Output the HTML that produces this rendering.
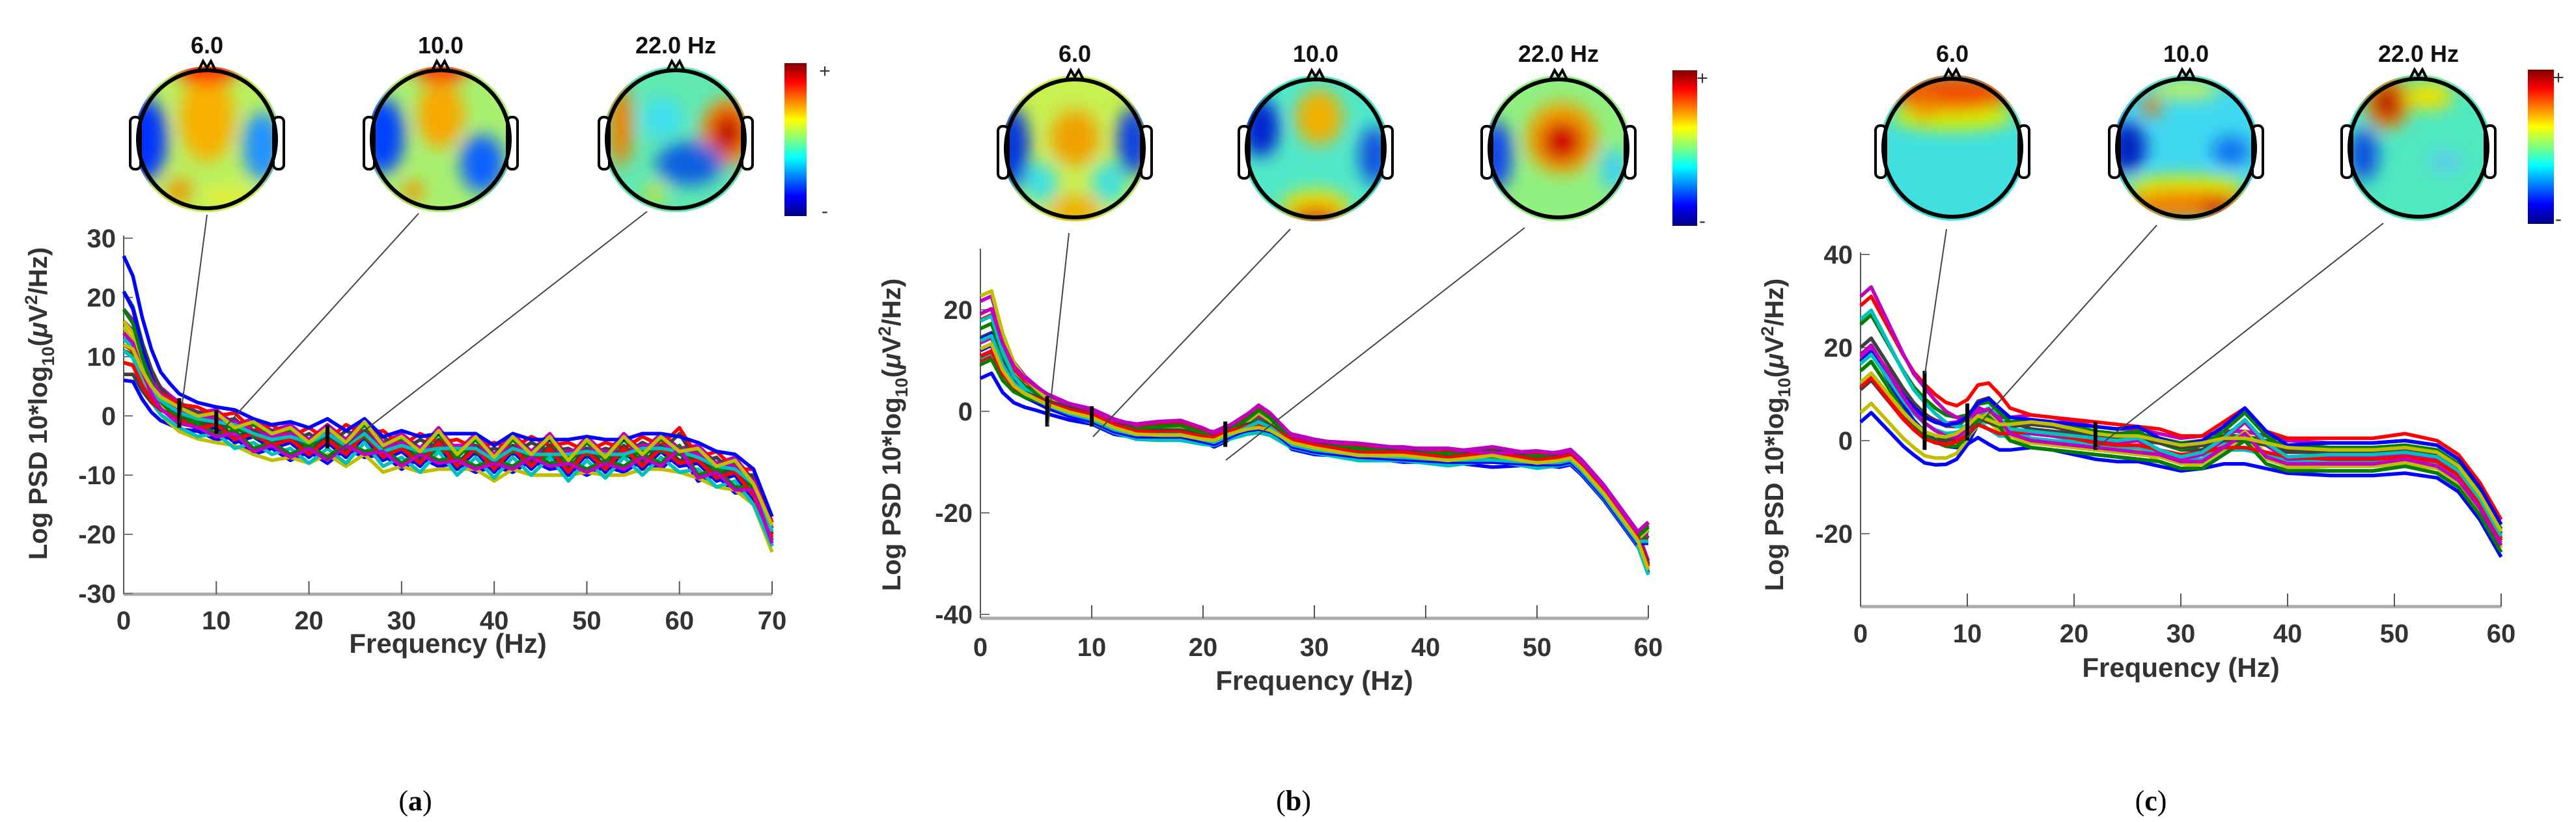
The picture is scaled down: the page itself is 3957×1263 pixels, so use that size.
<!DOCTYPE html>
<html><head><meta charset="utf-8"><style>
html,body{margin:0;padding:0;background:#fff}
svg{display:block}
text{font-family:"Liberation Sans",Arial,sans-serif}
</style></head><body>
<svg id="fig" width="3957" height="1263" viewBox="0 0 3957 1263" xmlns="http://www.w3.org/2000/svg">
<defs>
<linearGradient id="jet" x1="0" y1="0" x2="0" y2="1">
<stop offset="0" stop-color="#800000"/><stop offset="0.12" stop-color="#ff0000"/><stop offset="0.37" stop-color="#ffff00"/><stop offset="0.5" stop-color="#80ff80"/><stop offset="0.62" stop-color="#00ffff"/><stop offset="0.87" stop-color="#0000ff"/><stop offset="1" stop-color="#000080"/>
</linearGradient>
<filter id="blur" x="-50%" y="-50%" width="200%" height="200%"><feGaussianBlur stdDeviation="13"/></filter>
</defs>
<g id="heads"></g>
<g id="plots"></g>
<text x="638" y="1245" font-size="44" text-anchor="middle" style="font-family:'Liberation Serif',serif">(<tspan font-weight="bold">a</tspan>)</text>
<text x="1987" y="1245" font-size="44" text-anchor="middle" style="font-family:'Liberation Serif',serif">(<tspan font-weight="bold">b</tspan>)</text>
<text x="3304" y="1245" font-size="44" text-anchor="middle" style="font-family:'Liberation Serif',serif">(<tspan font-weight="bold">c</tspan>)</text>
</svg>
<script>
// ---------- Panel A data ----------
const freqsA=[0,1,2,3,4,5,6,8,10,12,14,16,18,20,22,24,26,28,30,32,34,36,38,40,42,44,46,48,50,52,54,56,58,60,62,64,66,68,70];
const baseA=[12,11,7,4,2,1,0,-1,-1.5,-2.5,-3.5,-4,-4.5,-5,-4.5,-5,-4,-5.5,-6,-6.5,-5.5,-7,-6,-7.5,-6.5,-7,-6,-7.5,-6.5,-7.5,-6.5,-7,-6,-6,-8,-9,-10,-12,-20];
const decayA=[1,0.8,0.55,0.35,0.2,0.12,0.06,0.02,0,0,0,0,0,0,0,0,0,0,0,0,0,0,0,0,0,0,0,0,0,0,0,0,0,0,0,0,0,0,0];
const jitA1=[0,0,0,0,0,0,0,0.5,-0.5,1,-1,0.5,-1,1,-1.5,1.5,-1,1,-1,1.5,-1,1,-1.5,1,-1,1.5,-1,1,-1.5,1,-1,1.5,-1,2,-1,1,-1,1,0];
const jitA2=[0,0,0,0,0,0,0,-0.5,0.5,-1,1,-0.5,1,-1,1,-1,1.5,-1,1,-1,1.5,-1,1,-1,1.5,-1,1,-1.5,1,-1,1.5,-1,1,-1.5,1,-1,1,-1,0];
const jitA3=[0,0,0,0,0,0,0,0,0,0.5,0,-0.5,0.5,0,1,-0.5,0.5,-1,0.5,0,-0.5,1,0,-0.5,0.5,0,-1,0.5,0,0.5,-0.5,1,0,-0.5,0.5,0,0.5,0,0];
const lowA=[-4,-2,0,2,4,6,8,10,-3,-1,1,3,5,-5,12,7,-2.5,0.5,3.5,-1.5];
const highA=[-2,1,0,-1,2,-3,1,-1,0,2,-2,1,-1,0,3,-1,-0.5,0.5,-1.5,1.5];
const yTicksA=[-30,-20,-10,0,10,20,30];
const xTicksA=[0,10,20,30,40,50,60,70];
const markA=[[6,-2,3],[10,-3,1],[22,-5.5,-1.5]];
// ---------- Panel B data ----------
const freqsB=[0,1,2,3,4,5,6,8,10,12,14,16,18,20,21,22,24,25,26,28,30,34,38,42,46,50,52,53,54,56,58,59,60];
const baseB=[12,13,8,5,3.5,2.5,1.5,0,-1,-3,-4,-4,-4,-5,-5.5,-4.5,-2.5,-1.5,-2.5,-6,-7,-8,-8.5,-9,-9,-9.5,-9.5,-9,-11,-16,-22,-25,-27];
const decayB=[1,1,0.7,0.45,0.3,0.2,0.12,0.05,0,0,0,0,0,0,0,0,0,0,0,0,0,0,0,0,0,0,0,0,0,0,0,0,0];
const jitB1=[0,0,0,0,0,0,0,0,0,0,0.3,0.8,1,0.5,0,0,0.8,1.5,1,0,0,0.5,0,0.5,-0.5,0.5,0,0,0,0,0,0,4];
const jitB2=[0,0,0,0,0,0,0,0,0,0,-0.3,-0.5,-0.5,-0.3,0,0,-0.8,-1.5,-1,0,0,-0.5,0,-0.5,0.5,-0.5,0,0,0,0,0,0,-4];
const jitB3=[0,0,0,0,0,0,0,0,0,0,0,0,0,0,0,0,0,0,0,0,0,0,0,0,0,0,0,0,0,0,0,0,2];
const lowB=[-4,-3,-2,-1,0,1,2,3,4,5,7,9,11,-2,1,-3,-1.5,2.5,6,0.5];
const highB=[-1.5,1,0,-0.5,1.5,-1,0.5,-0.8,0.3,1,-1.2,0.7,-0.3,0.8,-1,0.2,0.4,-0.6,1.2,-0.2];
const yTicksB=[-40,-20,0,20];
const xTicksB=[0,10,20,30,40,50,60];
const markB=[[6,-3,3],[10,-3,1],[22,-7,-2]];
// ---------- Panel C data ----------
const freqsC=[0,1,2,3,4,5,6,7,8,9,10,11,12,13,14,16,18,20,22,24,26,28,30,32,34,36,38,40,44,48,51,54,56,58,60];
const baseC=[13,15,12,9,6,3.5,1.5,0.5,0,0.5,2,4,4,3,2,1.5,1,0.5,0,-0.5,-1,-1.5,-2,-2,-1,0,-2,-3,-3.5,-3.5,-3,-4,-7,-13,-21];
const decayC=[1,1,0.9,0.8,0.7,0.6,0.55,0.45,0.35,0.25,0.15,0.08,0.03,0,0,0,0,0,0,0,0,0,0,0,0,0,0,0,0,0,0,0,0,0,0];
const jitC1=[0,0,0,0,0,0,0,0,0,0,1,3,4,3,1,0,0,0,0,0,0,0,-1,-1,1,3,0,-0.5,0,0,0.5,0,0,0,0];
const jitC2=[0,0,0,0,0,0,0,0,0,0,0,0,-1,-1,0,1,1,0.5,0,0,0.5,0,-0.5,0,0,-1,0,0,0,0,0,0,0,0,0];
const jitC3=[0,0,0,0,0,0,0,0,0,0,0,1,2,1,0,0,0,0,0,0,1,-1,-2,-1,1,4,1,-1,0,0,0,0,0,0,0];
const lowC=[-6,-4,-2,0,2,4,6,8,10,12,14,18,-5,-3,1,5,-1,3,7,-2];
const highC=[-3,2,0,-1,3,-2,1,-4,2,4,-1,0,-2,1,3,-3,-0.5,0.5,-1.5,1.5];
const yTicksC=[-20,0,20,40];
const xTicksC=[0,10,20,30,40,50,60];
const markC=[[6,-2,15],[10,0,8],[22,-2,4]];
const topoLabels=['6.0','10.0','22.0 Hz'];

const NS='http://www.w3.org/2000/svg';
function mk(tag,attrs,parent){const e=document.createElementNS(NS,tag);for(const k in attrs)e.setAttribute(k,attrs[k]);parent.appendChild(e);return e;}
const colors=['#0000ff','#008000','#ff0000','#00bfbf','#bf00bf','#bfbf00','#404040'];

const panels=[
 {id:'a',x0:190,x1:1186,fmax:70,y0:639,ppu:9.1,ytop:362,ybot:913,freqs:freqsA,base:baseA,decay:decayA,jit:[jitA1,jitA2,jitA3],low:lowA,high:highA,yt:yTicksA,xt:xTicksA,mark:markA,xlY:1003,tlY:967,ylX:72,ylY:620,
  conn:[[318,330,276,650],[643,328,336,667],[994,325,500,708]]},
 {id:'b',x0:1506,x1:2532,fmax:60,y0:632,ppu:7.8,ytop:382,ybot:950,freqs:freqsB,base:baseB,decay:decayB,jit:[jitB1,jitB2,jitB3],low:lowB,high:highB,yt:yTicksB,xt:xTicksB,mark:markB,xlY:1060,tlY:1008,ylX:1383,ylY:668,
  conn:[[1642,358,1610,654],[1982,352,1679,671],[2342,350,1883,707]]},
 {id:'c',x0:2858,x1:3842,fmax:60,y0:677,ppu:7.15,ytop:388,ybot:932,freqs:freqsC,base:baseC,decay:decayC,jit:[jitC1,jitC2,jitC3],low:lowC,high:highC,yt:yTicksC,xt:xTicksC,mark:markC,xlY:1040,tlY:987,ylX:2739,ylY:668,
  conn:[[2990,352,2957,574],[3313,346,3022,672],[3661,343,3219,689]]}
];
const plots=document.getElementById('plots');
panels.forEach(p=>{
 const g=mk('g',{},plots);
 
 
 const X=f=>p.x0+(p.x1-p.x0)*f/p.fmax;
 const Y=v=>p.y0-v*p.ppu;
 const ax=mk('g',{},g);
 
 
 mk('line',{x1:p.x0,y1:p.ytop,x2:p.x0,y2:p.ybot,stroke:'#555','stroke-width':2},ax);
 mk('line',{x1:p.x0,y1:p.ybot,x2:p.x1,y2:p.ybot,stroke:'#aaa','stroke-width':5},ax);
 p.xt.forEach(t=>{
  mk('line',{x1:X(t),y1:p.ybot,x2:X(t),y2:p.ybot-20,stroke:'#555','stroke-width':2},ax);
  const tx=mk('text',{x:X(t),y:p.tlY,'font-size':40,'font-weight':'bold','text-anchor':'middle',fill:'#333'},ax);
  tx.textContent=t;
  
  
 });
 p.yt.forEach(t=>{
  mk('line',{x1:p.x0,y1:Y(t),x2:p.x0+14,y2:Y(t),stroke:'#777','stroke-width':2},ax);
  const tx=mk('text',{x:p.x0-12,y:Y(t)+14,'font-size':40,'font-weight':'bold','text-anchor':'end',fill:'#333'},ax);
  tx.textContent=t;
  
  
 });
 const xl=mk('text',{x:(p.x0+p.x1)/2,y:p.xlY,'font-size':42,'font-weight':'bold','text-anchor':'middle',fill:'#333'},ax);
 xl.textContent='Frequency (Hz)';
 
 
 const yl=mk('text',{x:0,y:0,'font-size':40,'font-weight':'bold','text-anchor':'middle',fill:'#333',transform:`translate(${p.ylX},${p.ylY}) rotate(-90)`},ax);
 yl.innerHTML='Log PSD 10*log<tspan font-size="27" dy="11">10</tspan><tspan dy="-11">(</tspan><tspan font-style="italic">μ</tspan>V<tspan font-size="27" dy="-15">2</tspan><tspan dy="15">/Hz)</tspan>';
 
 
 const sg=mk('g',{fill:'none','stroke-width':5.5,'stroke-linejoin':'round'},g);
 
 
 p.low.forEach((lo,c)=>{
  const j=p.jit[c%3];
  const pts=p.freqs.map((f,i)=>{const v=p.base[i]+lo*p.decay[i]+p.high[c]+j[i];return X(f).toFixed(1)+','+Y(v).toFixed(1);});
  const pl=mk('polyline',{points:pts.join(' '),stroke:colors[c%colors.length]},sg);
  
  
 });
 p.mark.forEach(m=>{
  const ml=mk('line',{x1:X(m[0]),y1:Y(m[1]),x2:X(m[0]),y2:Y(m[2]),stroke:'#000','stroke-width':6},g);
  
  
 });
 p.conn.forEach(c=>{
  const cl=mk('line',{x1:c[0],y1:c[1],x2:c[2],y2:c[3],stroke:'#444','stroke-width':2},g);
  
  
 });
});

// ---------- Topoplots ----------
const heads=[
 {cx:318,cy:214,ty:82,bg:'#b8f060',bl:[[0,-0.3,0.4,0.62,'#f8b000'],[0,-1,0.45,0.2,'#ff2000'],[-0.9,0,0.32,0.6,'#0030ff'],[0.8,0.1,0.28,0.5,'#2090ff'],[-0.4,0.75,0.18,0.18,'#f09000'],[0.3,0.85,0.4,0.2,'#e0f040']]},
 {cx:677,cy:214,ty:82,bg:'#a8f070',bl:[[0,-0.35,0.34,0.48,'#f8a800'],[0,-1,0.4,0.18,'#ff3000'],[-0.85,-0.05,0.32,0.55,'#0040ff'],[0.6,0.35,0.32,0.42,'#1060ff'],[-0.4,0.75,0.15,0.15,'#f09000']]},
 {cx:1038,cy:214,ty:82,bg:'#60e8b0',bl:[[0.75,-0.1,0.38,0.48,'#ff8000'],[0.75,-0.1,0.22,0.3,'#c00000'],[-0.8,-0.2,0.17,0.6,'#f08000'],[0.2,0.35,0.48,0.32,'#1060e0'],[-0.3,0.78,0.13,0.13,'#f0e000'],[-0.2,-0.3,0.3,0.3,'#40e0f0']]},
 {cx:1651,cy:228,ty:95,bg:'#c8f050',bl:[[0,-0.15,0.35,0.4,'#f0a000'],[-0.9,0,0.24,0.6,'#0030e0'],[0.85,-0.1,0.24,0.5,'#1040e0'],[0,0.9,0.38,0.22,'#f0b000'],[-0.5,0.5,0.25,0.3,'#40e0e0'],[0.5,0.5,0.25,0.3,'#40e0e0']]},
 {cx:2021,cy:228,ty:95,bg:'#50e8c8',bl:[[0.05,-0.45,0.34,0.4,'#f0b000'],[-0.8,-0.3,0.27,0.42,'#0020d0'],[0.85,0.1,0.22,0.42,'#1050e0'],[0,0.85,0.5,0.25,'#f0e000'],[0,0.98,0.38,0.14,'#e03000']]},
 {cx:2394,cy:228,ty:95,bg:'#90f080',bl:[[0.05,-0.15,0.52,0.52,'#f0a000'],[0.05,-0.1,0.3,0.3,'#d00000'],[-0.9,0.1,0.22,0.5,'#1040f0'],[0.8,0.3,0.2,0.3,'#40d0f0']]},
 {cx:2999,cy:227,ty:95,bg:'#40e0e0',bl:[[0,-0.45,0.9,0.2,'#d8f000'],[0,-0.8,0.9,0.27,'#f05000'],[-0.4,-0.6,0.22,0.17,'#f08000']]},
 {cx:3358,cy:227,ty:95,bg:'#40d8f0',bl:[[-0.85,0,0.27,0.38,'#0020c0'],[0.65,0.05,0.27,0.22,'#1070f0'],[-0.5,-0.6,0.14,0.14,'#f07000'],[0,0.55,0.9,0.15,'#e0f000'],[0,0.82,0.9,0.22,'#f08000'],[0.45,0.85,0.22,0.14,'#d02000'],[0,-0.85,0.5,0.15,'#c0f060']]},
 {cx:3715,cy:227,ty:95,bg:'#50e8c0',bl:[[-0.45,-0.65,0.32,0.38,'#f08000'],[-0.45,-0.65,0.19,0.24,'#b00000'],[0.15,-0.75,0.35,0.2,'#f0e000'],[-0.8,0.1,0.22,0.38,'#1050e0'],[0.4,0.2,0.22,0.12,'#60c0ff']]}
];
const hg=document.getElementById('heads');
const R=106;
heads.forEach((h,k)=>{
 const g=mk('g',{},hg);
 
 
 const cid='clip'+k;
 const cp=mk('clipPath',{id:cid},g);
 mk('circle',{cx:h.cx,cy:h.cy,r:R+6},cp);
 const inner=mk('g',{'clip-path':`url(#${cid})`},g);
 mk('rect',{x:h.cx-R-10,y:h.cy-R-10,width:2*R+20,height:2*R+20,fill:h.bg},inner);
 const bg=mk('g',{filter:'url(#blur)'},inner);
 h.bl.forEach(b=>mk('ellipse',{cx:h.cx+b[0]*R,cy:h.cy+b[1]*R,rx:b[2]*R,ry:b[3]*R,fill:b[4]},bg));
 mk('rect',{x:h.cx-R-12,y:h.cy-34,width:16,height:80,rx:7,fill:'#fff',stroke:'#000','stroke-width':4},g);
 mk('rect',{x:h.cx+R-4,y:h.cy-34,width:16,height:80,rx:7,fill:'#fff',stroke:'#000','stroke-width':4},g);
 mk('polyline',{points:`${h.cx-14},${h.cy-R+2} ${h.cx-6},${h.cy-R-14} ${h.cx},${h.cy-R-4} ${h.cx+6},${h.cy-R-14} ${h.cx+14},${h.cy-R+2}`,fill:'none',stroke:'#000','stroke-width':4},g);
 mk('circle',{cx:h.cx,cy:h.cy,r:R,fill:'none',stroke:'#000','stroke-width':6},g);
 const t=mk('text',{x:h.cx,y:h.ty,'font-size':36,'font-weight':'bold','text-anchor':'middle',fill:'#111'},g);
 t.textContent=topoLabels[k%3];
 
 
});
[[1205,97,34,235,1267],[2569,108,38,239,2615],[3883,107,40,237,3930]].forEach((c,i)=>{
 const g=mk('g',{},hg);
 
 
 mk('rect',{x:c[0],y:c[1],width:c[2],height:c[3],fill:'url(#jet)'},g);
 const p=mk('text',{x:c[4],y:c[1]+22,'font-size':30,'text-anchor':'middle',fill:'#333'},g);p.textContent='+';
 const m=mk('text',{x:c[4],y:c[1]+c[3]+2,'font-size':30,'text-anchor':'middle',fill:'#333'},g);m.textContent='-';
});
</script>
</body></html>
